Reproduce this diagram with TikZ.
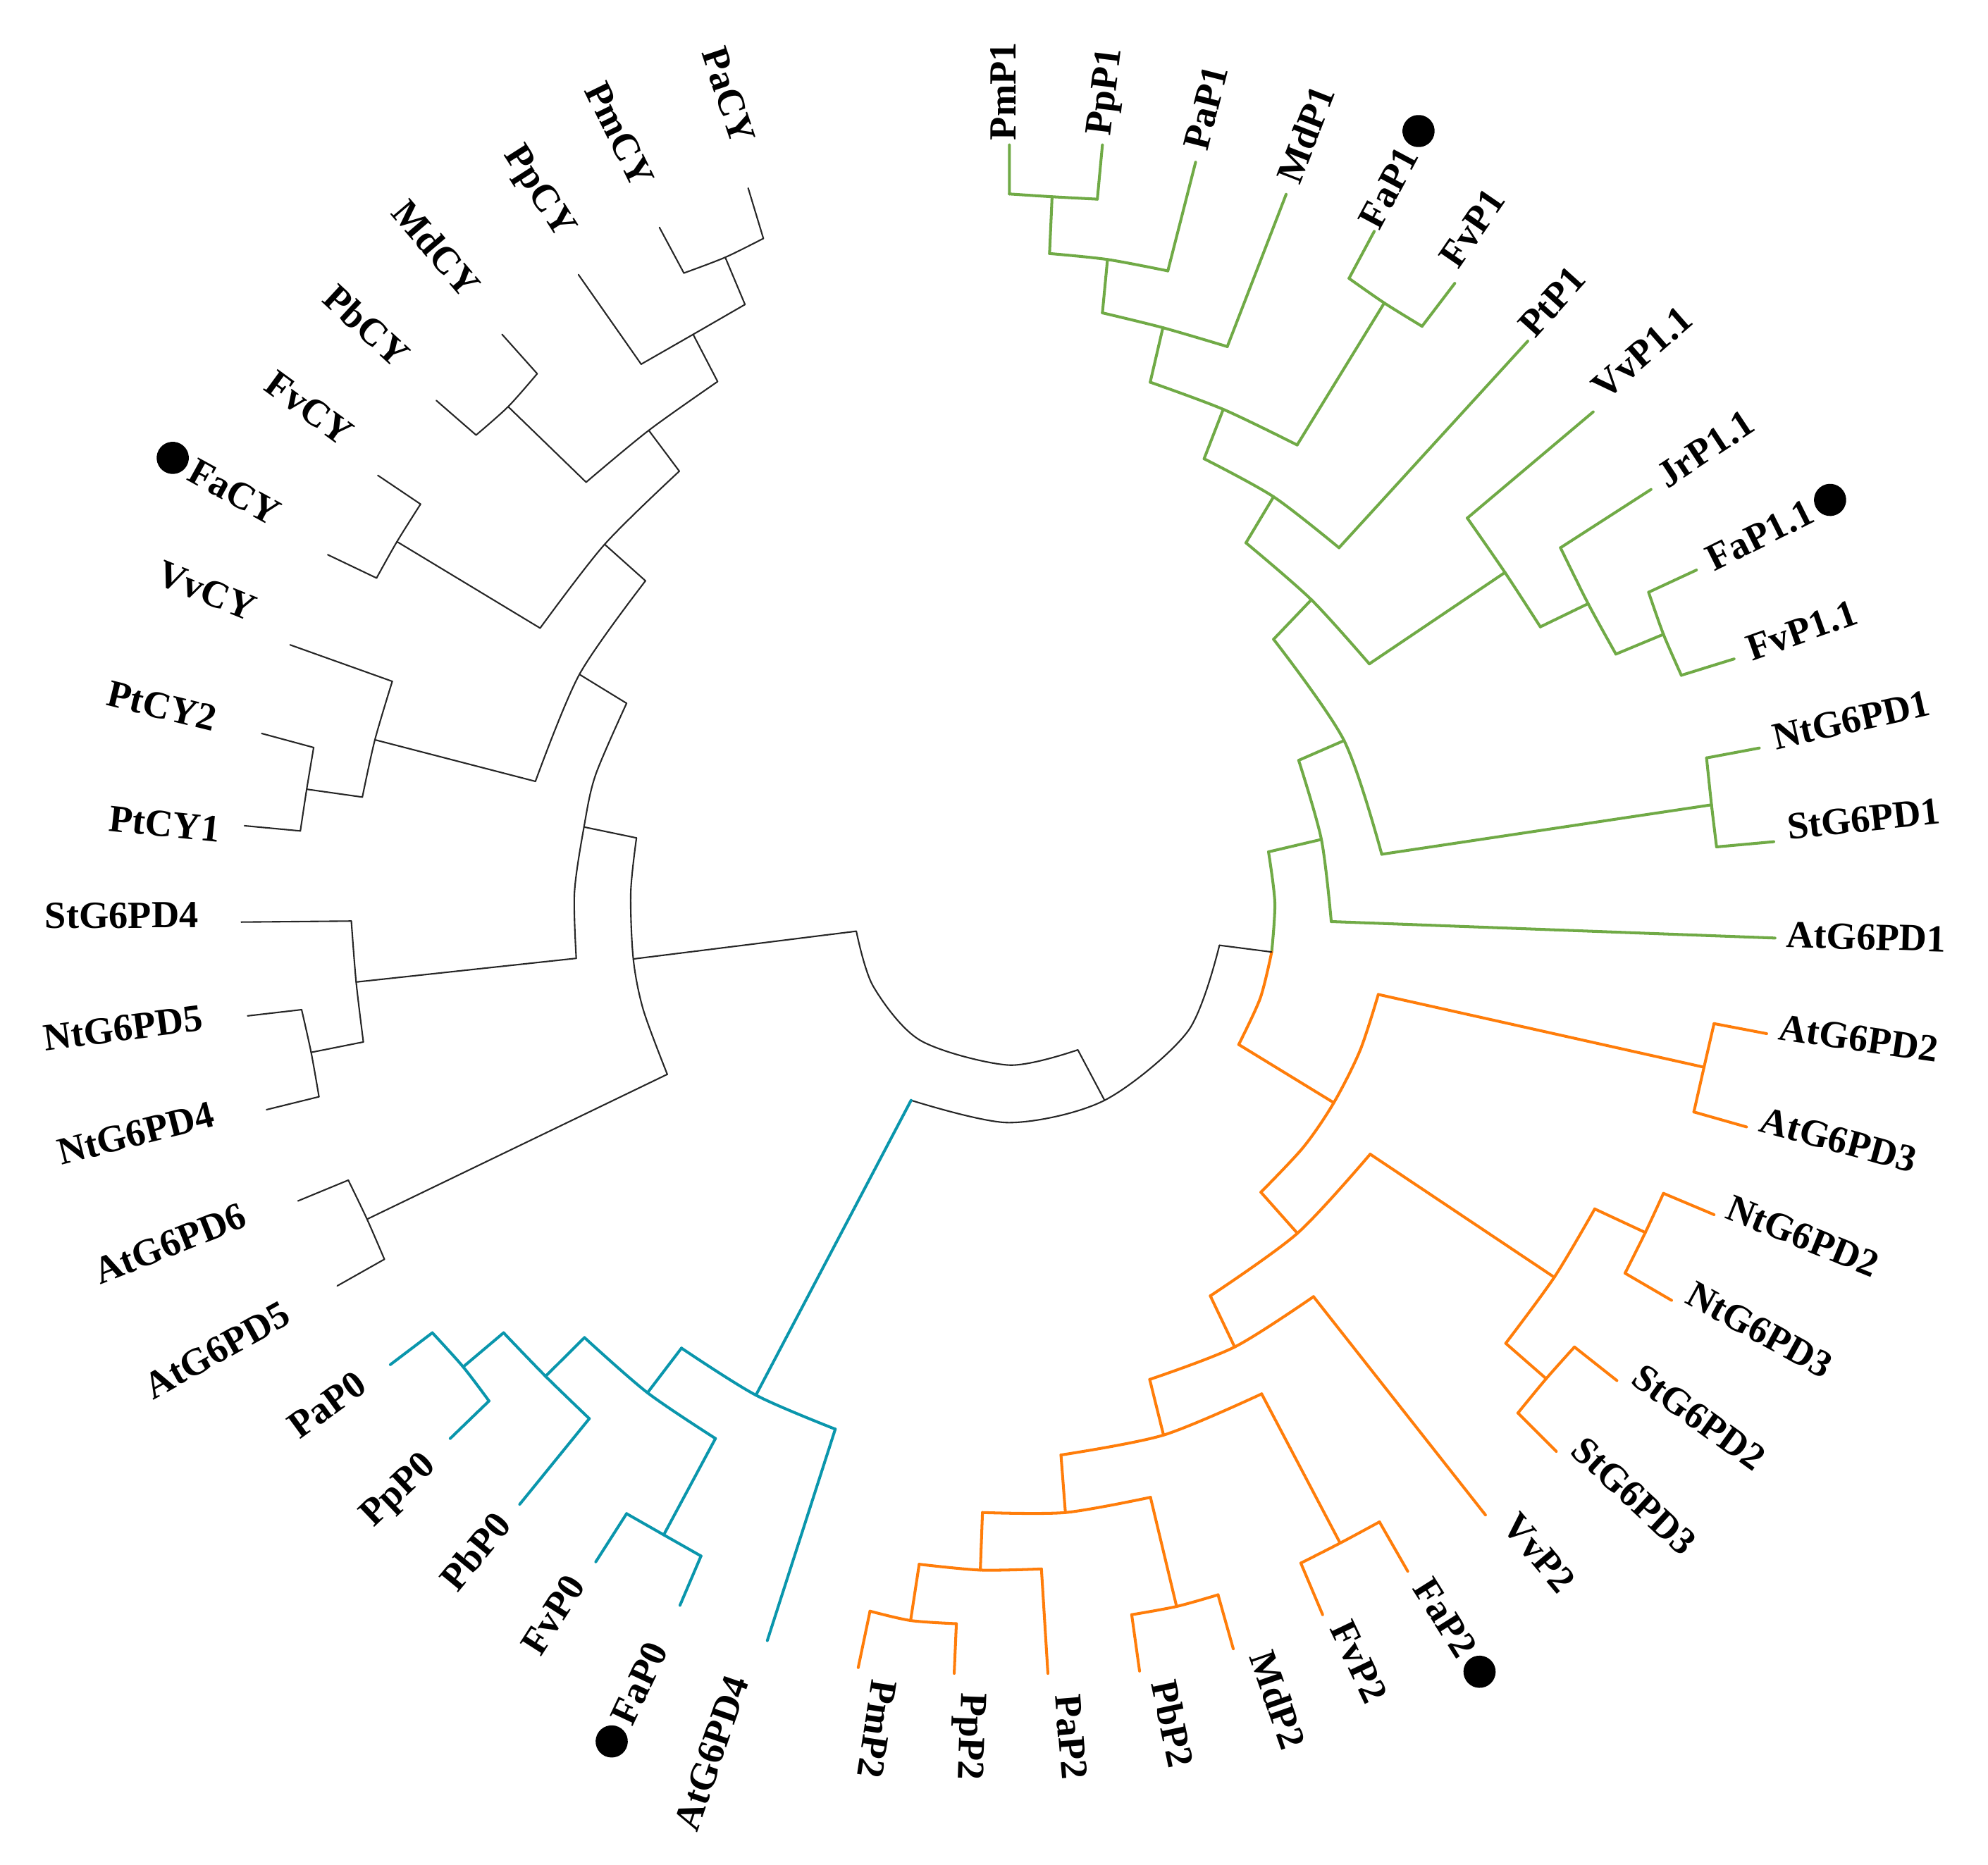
\documentclass[tikz,border=0pt]{standalone}
\usepackage{fontspec}
\setmainfont{Liberation Serif}
\usepackage{tikz}

\definecolor{p1green}{RGB}{112,170,70}
\definecolor{p2orange}{RGB}{255,125,10}
\definecolor{p0teal}{RGB}{10,150,172}

\tikzset{
    taxon/.style={font=\fontsize{15.5pt}{18pt}\selectfont\bfseries,
        inner sep=0pt, text height=10.3pt, text depth=0pt},
    fadot/.style={circle, fill=black, inner sep=0pt, minimum size=13pt, outer sep=2pt},
    branch/.style={line join=round, line cap=round},
    cyline/.style={branch, line width=0.6pt, black!85},
    p0line/.style={branch, line width=1.15pt, p0teal},
    p1line/.style={branch, line width=1.15pt, p1green},
    p2line/.style={branch, line width=1.15pt, p2orange}
}

\begin{document}
\begin{tikzpicture}[x=0.018cm, y=-0.018cm]
    \useasboundingbox (0,0) rectangle (1568,1471);

    % taxa: branch tip / label centre / label angle / name
    \foreach \id/\tip/\lab/\ang/\txt in {
        pacy/{590.1,148.4}/{575,75}/-71.6/PaCY,
        pmcy/{520.1,179.4}/{489,106}/-63.9/PmCY,
        ppcy/{456.2,216.6}/{427,150}/-57.5/PpCY,
        mdcy/{396,263.8}/{344,196}/-49.6/MdCY,
        pbcy/{344.1,315.9}/{289,257}/-42.7/PbCY,
        fvcy/{298,375}/{244,322}/-36.1/FvCY,
        facy/{258.5,437.6}/{185,388}/-28.8/FaCY,
        vvcy/{228.8,508.7}/{163,466}/-22.1/VvCY,
        ptcy2/{206.4,578.6}/{128,557}/-13.8/PtCY2,
        ptcy1/{192.8,651.4}/{130,650}/-6.1/PtCY1,
        stg4/{190.3,727.4}/{96,722}/0.2/StG6PD4,
        ntg5/{195.3,801.4}/{97,811}/7.5/NtG6PD5,
        ntg4/{210.2,875.4}/{107,894}/14.3/NtG6PD4,
        atg6/{235,947.4}/{134,981}/21.7/AtG6PD6,
        atg5/{266,1014.4}/{171,1065}/29.1/AtG6PD5,
        pap0/{307.9,1076.5}/{258,1108}/36.1/PaP0,
        ppp0/{355.1,1134.8}/{313,1174}/43.6/PpP0,
        pbp0/{409.9,1186.7}/{375,1224}/50.5/PbP0,
        fvp0/{469.9,1232.1}/{436,1274}/57.4/FvP0,
        fap0/{536.3,1266.4}/{504,1328}/64.8/FaP0,
        atg4/{605.2,1294.2}/{561,1383}/70.9/AtG6PD4,
        pmp1/{796.1,114.3}/{791,72}/89.9/PmP1,
        ppp1/{869.5,114.3}/{870,72}/83.0/PpP1,
        pap1/{943,127.9}/{951,85}/75.8/PaP1,
        mdp1/{1014.4,153.3}/{1030,106}/68.7/MdP1,
        fap1/{1083.9,182.5}/{1095,148}/61.9/FaP1,
        fvp1/{1147.4,223.5}/{1161,180}/55.5/FvP1,
        ptp1/{1205,269.1}/{1224,238}/48.0/PtP1,
        vvp11/{1256.6,324.9}/{1295,278}/41.2/VvP1.1,
        jrp11/{1302.2,386.1}/{1345,354}/33.4/JrP1.1,
        fap11/{1338,449.7}/{1388,422}/26.5/FaP1.1,
        fvp11/{1367.7,519.8}/{1421,497}/19.5/FvP1.1,
        ntg1/{1387.6,590.1}/{1460,568}/12.8/NtG6PD1,
        stg1/{1399,664}/{1470,646}/6.2/StG6PD1,
        atg1/{1400,740}/{1472,739}/-1.6/AtG6PD1,
        atg2/{1393.4,815.4}/{1466,819}/-8.3/AtG6PD2,
        atg3/{1377.5,889}/{1450,899}/-15.2/AtG6PD3,
        ntg2/{1351.9,958.2}/{1422,975}/-22.0/NtG6PD2,
        ntg3/{1318.4,1025.8}/{1388,1049}/-28.8/NtG6PD3,
        stg2/{1275.3,1089.1}/{1340,1118}/-35.9/StG6PD2,
        stg3/{1227.5,1145}/{1289,1180}/-42.7/StG6PD3,
        vvp2/{1171.6,1195.1}/{1214,1225}/-50.0/VvP2,
        fap2/{1110.3,1239.5}/{1140,1276}/-57.8/FaP2,
        fvp2/{1043.2,1273.8}/{1072,1311}/-64.5/FvP2,
        mdp2/{972.7,1300.7}/{1008,1341}/-70.7/MdP2,
        pbp2/{898.8,1318.3}/{925,1360}/-78.1/PbP2,
        pap2/{826.5,1320.1}/{845,1370}/-85.2/PaP2,
        ppp2/{752.6,1320.1}/{767,1370}/-92.0/PpP2,
        pmp2/{676.9,1315.5}/{692,1364}/-98.7/PmP2}{
        \coordinate (\id-t) at (\tip);
        \node[taxon, rotate=\ang] (\id) at (\lab) {\txt};
    }

    % strawberry genes
    \node[fadot, rotate=-28.8, anchor=east] (facy-dot) at (facy.west) {};
    \node[fadot, rotate=64.8, anchor=east] (fap0-dot) at (fap0.west) {};
    \node[fadot, rotate=61.9, anchor=west] (fap1-dot) at (fap1.east) {};
    \node[fadot, rotate=26.5, anchor=west] (fap11-dot) at (fap11.east) {};
    \node[fadot, rotate=-57.8, anchor=west] (fap2-dot) at (fap2.east) {};

    % inner nodes: arc end A / node / arc end B
    \foreach \id/\a/\m/\b in {
        cyt/{502,661}/{499.5,756.5}/{526.3,847.5},
        cy1/{494.2,554.8}/{460.6,652.4}/{454.5,756},
        cy2/{509.1,458.2}/{457,532}/{422.3,616.4},
        cy3/{426,495.5}/{476.9,429.4}/{535.8,371.7},
        cy4/{462.3,380.4}/{511.7,339.5}/{566,301},
        cy5/{505.7,287.3}/{546.7,263.8}/{587.6,240.2},
        pmpacy/{539.4,215.4}/{572,203}/{602.1,188.1},
        mdpbcy/{423.7,294.8}/{400.8,320.8}/{375.5,343.2},
        fvfacy/{331.7,397.7}/{313.1,427.3}/{297,456},
        ptvv/{309.4,537.5}/{295.7,583.6}/{285.8,628.8},
        ptcy/{247.4,589.7}/{241.9,622.6}/{236.9,655.5},
        stnt/{277.1,726.6}/{280.9,774.7}/{286.6,822},
        nt45/{237.9,796.5}/{245.4,830.2}/{251.6,865.2},
        at56/{274.7,931}/{289.5,961.8}/{303.2,993.4},
        pla/{718.6,868}/{871.2,868}/{961.8,745.7},
        p0/{537.5,1063.5}/{596.2,1100.6}/{658.8,1127.4},
        p0b/{461,1055.2}/{510.7,1098.7}/{564.3,1134.8},
        p0c/{397.2,1051.4}/{430.3,1085.7}/{464.8,1119.1},
        p0d/{341,1051.4}/{365.3,1078.3}/{385.7,1105.2},
        fvfap0/{494.2,1194.1}/{523.5,1210.8}/{552.9,1227.5},
        g0/{1000.5,672}/{1003,751}/{977,824},
        p1g/{1024.3,599.8}/{1042.2,662.2}/{1050,727},
        p1f/{1004.5,504.3}/{1060.1,584.2}/{1089.8,673.9},
        p1e/{982.7,428.2}/{1034.3,473.1}/{1080,523.7},
        p1d/{949.7,361.9}/{1004.5,391.9}/{1056.1,432.1},
        p1c/{907.2,301.5}/{964.8,322.9}/{1023.1,351},
        p1b/{869.5,246.8}/{917.2,258.5}/{968,273.4},
        p1a/{827.8,200}/{873.5,204.7}/{921.1,213.7},
        pmpp1/{796.1,153}/{829.8,155.2}/{865.5,157.1},
        fafv1/{1064,219.6}/{1091.8,239}/{1121.6,257.4},
        vj/{1157.3,408.7}/{1187,451.6}/{1214.9,494.5},
        jr/{1230.8,432.1}/{1252.6,476.2}/{1274.5,516},
        fafv11/{1300.3,467.2}/{1312,500.4}/{1326.1,532.7},
        ntst1/{1346,597.9}/{1349.9,634.9}/{1353.9,668.1},
        p2a/{1087.1,784.5}/{1052,869.9}/{994.5,940.5},
        at23/{1351.9,807.5}/{1344,841.9}/{1336,877.2},
        p2b/{1080.7,910.5}/{1023.3,972.9}/{954.6,1022.3},
        p2c/{1257.8,953.7}/{1225.9,1007.6}/{1187.6,1059.7},
        nt23/{1312,941.4}/{1297.7,972.3}/{1281.7,1004.4},
        st23/{1241.8,1062.6}/{1219.5,1087.6}/{1197.2,1114.7},
        p2d/{1036,1022.9}/{973.8,1062.6}/{906.8,1088.2},
        p2e/{995.1,1099.6}/{917.7,1132.1}/{836.8,1147.8},
        fafv2/{1088,1200.6}/{1057,1217.3}/{1026,1233.1},
        p2f/{907.4,1181.2}/{840.3,1193.2}/{774.9,1193.2},
        pbmd2/{960.7,1258.1}/{928,1267.3}/{892.6,1273.8},
        p2g/{821.4,1237.7}/{773.2,1238.6}/{725,1234},
        pmpp2/{754.3,1280.9}/{718.2,1278.4}/{686.2,1271}}{
        \coordinate (\id A) at (\a);
        \coordinate (\id) at (\m);
        \coordinate (\id B) at (\b);
    }
    \coordinate (rootA) at (675.4,734.6);
    \coordinate (rootB) at (850.1,828.2);

    % arcs
    \draw[cyline] plot[smooth] coordinates {(rootA) (688.8,778.2) (726,820.8) (795.5,840.2) (rootB)};
    \draw[cyline] plot[smooth] coordinates {(plaA) (795.5,885.6) (pla) (937,813.4) (plaB)};
    \draw[cyline] plot[smooth] coordinates {(cytA) (497.5,704) (cyt) (507.5,797) (cytB)};
    \draw[cyline] plot[smooth] coordinates {(cy1A) (469.7,611.4) (cy1) (453.1,704) (cy1B)};
    \foreach \id in {cy2,cy3,cy4,cy5,pmpacy,mdpbcy,fvfacy,ptvv,ptcy,stnt,nt45,at56}
        \draw[cyline] plot[smooth] coordinates {(\id A) (\id) (\id B)};
    \foreach \id in {p0,p0b,p0c,p0d,fvfap0}
        \draw[p0line] plot[smooth] coordinates {(\id A) (\id) (\id B)};
    \draw[p1line] plot[smooth] coordinates {(g0A) (1005.5,712) (g0)};
    \draw[p2line] plot[smooth] coordinates {(g0) (994,787.4) (g0B)};
    \foreach \id in {p1g,p1f,p1e,p1d,p1c,p1b,p1a,pmpp1,fafv1,vj,jr,fafv11,ntst1}
        \draw[p1line] plot[smooth] coordinates {(\id A) (\id) (\id B)};
    \draw[p2line] plot[smooth] coordinates {(p2aA) (1072.7,828.7) (p2a) (1028,905) (p2aB)};
    \foreach \id in {at23,p2b,p2c,nt23,st23,p2d,p2e,fafv2,p2f,pbmd2,p2g,pmpp2}
        \draw[p2line] plot[smooth] coordinates {(\id A) (\id) (\id B)};

    % branches
    \draw[cyline] (rootA) -- (cyt) (rootB) -- (pla) (plaB) -- (g0)
        (cytA) -- (cy1) (cytB) -- (at56)
        (cy1A) -- (cy2) (cy1B) -- (stnt)
        (cy2A) -- (cy3) (cy2B) -- (ptvv)
        (cy3A) -- (fvfacy) (cy3B) -- (cy4)
        (cy4A) -- (mdpbcy) (cy4B) -- (cy5)
        (cy5A) -- (ppcy-t) (cy5B) -- (pmpacy)
        (pmpacyA) -- (pmcy-t) (pmpacyB) -- (pacy-t)
        (mdpbcyA) -- (mdcy-t) (mdpbcyB) -- (pbcy-t)
        (fvfacyA) -- (fvcy-t) (fvfacyB) -- (facy-t)
        (ptvvA) -- (vvcy-t) (ptvvB) -- (ptcy)
        (ptcyA) -- (ptcy2-t) (ptcyB) -- (ptcy1-t)
        (stntA) -- (stg4-t) (stntB) -- (nt45)
        (nt45A) -- (ntg5-t) (nt45B) -- (ntg4-t)
        (at56A) -- (atg6-t) (at56B) -- (atg5-t);
    \draw[p0line] (plaA) -- (p0)
        (p0A) -- (p0b) (p0B) -- (atg4-t)
        (p0bA) -- (p0c) (p0bB) -- (fvfap0)
        (p0cA) -- (p0d) (p0cB) -- (pbp0-t)
        (p0dA) -- (pap0-t) (p0dB) -- (ppp0-t)
        (fvfap0A) -- (fvp0-t) (fvfap0B) -- (fap0-t);
    \draw[p1line] (g0A) -- (p1g)
        (p1gA) -- (p1f) (p1gB) -- (atg1-t)
        (p1fA) -- (p1e) (p1fB) -- (ntst1)
        (p1eA) -- (p1d) (p1eB) -- (vj)
        (p1dA) -- (p1c) (p1dB) -- (ptp1-t)
        (p1cA) -- (p1b) (p1cB) -- (fafv1)
        (p1bA) -- (p1a) (p1bB) -- (mdp1-t)
        (p1aA) -- (pmpp1) (p1aB) -- (pap1-t)
        (pmpp1A) -- (pmp1-t) (pmpp1B) -- (ppp1-t)
        (fafv1A) -- (fap1-t) (fafv1B) -- (fvp1-t)
        (vjA) -- (vvp11-t) (vjB) -- (jr)
        (jrA) -- (jrp11-t) (jrB) -- (fafv11)
        (fafv11A) -- (fap11-t) (fafv11B) -- (fvp11-t)
        (ntst1A) -- (ntg1-t) (ntst1B) -- (stg1-t);
    \draw[p2line] (g0B) -- (p2a)
        (p2aA) -- (at23) (p2aB) -- (p2b)
        (at23A) -- (atg2-t) (at23B) -- (atg3-t)
        (p2bA) -- (p2c) (p2bB) -- (p2d)
        (p2cA) -- (nt23) (p2cB) -- (st23)
        (nt23A) -- (ntg2-t) (nt23B) -- (ntg3-t)
        (st23A) -- (stg2-t) (st23B) -- (stg3-t)
        (p2dA) -- (vvp2-t) (p2dB) -- (p2e)
        (p2eA) -- (fafv2) (p2eB) -- (p2f)
        (fafv2A) -- (fap2-t) (fafv2B) -- (fvp2-t)
        (p2fA) -- (pbmd2) (p2fB) -- (p2g)
        (pbmd2A) -- (mdp2-t) (pbmd2B) -- (pbp2-t)
        (p2gA) -- (pap2-t) (p2gB) -- (pmpp2)
        (pmpp2A) -- (ppp2-t) (pmpp2B) -- (pmp2-t);
\end{tikzpicture}
\end{document}
